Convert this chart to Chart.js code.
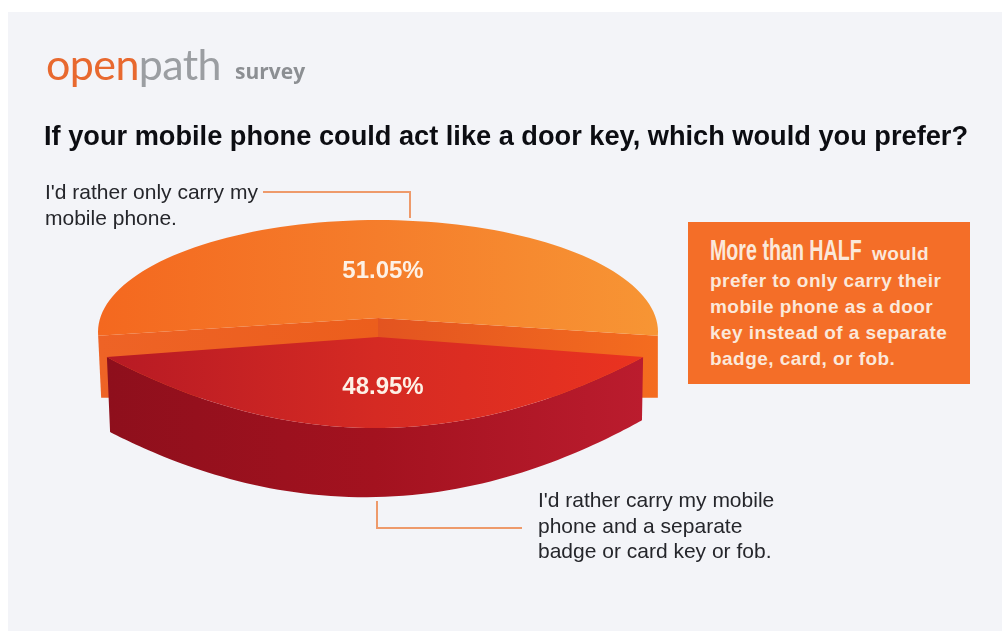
<!DOCTYPE html>
<html>
<head>
<meta charset="utf-8">
<title>openpath survey</title>
<script src="https://cdn.jsdelivr.net/npm/chart.js@4/dist/chart.umd.min.js"></script>
<style>
  html, body { margin: 0; padding: 0; width: 1002px; height: 631px; overflow: hidden; background: #fff; }
  #panel { position: absolute; left: 8px; top: 12px; width: 994px; height: 619px; background: #f3f4f8; }
  #pie { position: absolute; left: 0; top: 0; }
  .txt { position: absolute; white-space: nowrap; font-family: "Liberation Sans", Arial, sans-serif; }
  .logo { font-family: Lato, sans-serif; font-weight: 400; font-size: 43px; left: 46px; top: 38px; letter-spacing: -0.6px; }
  .survey { font-family: "Open Sans", sans-serif; font-weight: 700; font-size: 21px; left: 235px; top: 57px; color: #8c8f93; }
  h1.txt { margin: 0; left: 44px; top: 120px; font-size: 27.2px; font-weight: 700; color: #0c0d12; }
  .note { font-size: 21px; line-height: 25.6px; color: #25262b; }
  .leader { position: absolute; background: #ee9a6b; }
  #box { position: absolute; left: 688px; top: 222px; width: 282px; height: 162px; background: #f46e28; }
  .boxline { font-size: 19px; font-weight: 700; color: #fbe8da; left: 710px; letter-spacing: 0.45px; }
  .big { font-size: 30px; letter-spacing: 0; transform: scaleX(0.655); transform-origin: left center; }
</style>
</head>
<body>
<div id="panel"></div>
<canvas id="pie" width="1002" height="631"></canvas>

<div class="txt logo"><span style="color:#e8692f">open</span><span style="color:#9b9ea2">path</span></div>
<div class="txt survey">survey</div>
<h1 class="txt">If your mobile phone could act like a door key, which would you prefer?</h1>

<div class="txt note" style="left:45px;top:179px">I'd rather only carry my<br>mobile phone.</div>
<div class="leader" style="left:263px;top:191px;width:148px;height:2px"></div>
<div class="leader" style="left:409px;top:191px;width:2px;height:27px"></div>

<div class="txt note" style="left:538px;top:487px">I'd rather carry my mobile<br>phone and a separate<br>badge or card key or fob.</div>
<div class="leader" style="left:376px;top:501px;width:2px;height:28px"></div>
<div class="leader" style="left:376px;top:527px;width:146px;height:2px"></div>

<div id="box"></div>
<div class="txt boxline big" style="top:233px">More than HALF</div>
<div class="txt boxline" style="left:872px;top:243px">would</div>
<div class="txt boxline" style="top:270px">prefer to only carry their</div>
<div class="txt boxline" style="top:296px">mobile phone as a door</div>
<div class="txt boxline" style="top:322px">key instead of a separate</div>
<div class="txt boxline" style="top:348px">badge, card, or fob.</div>

<script>
const answers = ["I'd rather only carry my mobile phone.", "I'd rather carry my mobile phone and a separate badge or card key or fob."];
const shares = [51.05, 48.95];

const topStops = [["#f4681f", "#f57d2b", "#f79534"], ["#b71a24", "#d52a23", "#ea3320"]];
const wallStops = ["#8e0f1c", "#a3121f", "#bb1c2e"];

// horizontal colour ramp across the width of the pie
function ramp(ctx, x0, x1, stops) {
  const g = ctx.createLinearGradient(x0, 0, x1, 0);
  stops.forEach((c, i) => g.addColorStop(i / (stops.length - 1), c));
  return g;
}

// the upper slice sits on a plain ellipse, the lower one on a flatter curve
function upperPoint(arc, a) {
  return [arc.x + Math.cos(a) * arc.outerRadius, arc.y + Math.sin(a) * arc.outerRadius * 0.4];
}
function lowerPoint(arc, a) {
  const s = Math.sin(a);
  return [arc.x - 3 + Math.cos(a) * arc.outerRadius * 0.958, arc.y + 25 + 71 * s * s];
}

function sweep(arc, pointAt) {
  const pts = [];
  const n = 90;
  for (let i = 0; i <= n; i++) {
    pts.push(pointAt(arc, arc.startAngle + (arc.endAngle - arc.startAngle) * i / n));
  }
  return pts;
}

function fillShape(ctx, pts, style) {
  ctx.beginPath();
  pts.forEach((p, i) => (i ? ctx.lineTo(p[0], p[1]) : ctx.moveTo(p[0], p[1])));
  ctx.closePath();
  ctx.fillStyle = style;
  ctx.fill();
}

const slabPlugin = {
  id: 'slab',
  beforeDatasetsDraw(chart) {
    const ctx = chart.ctx;
    const [upper, lower] = chart.getDatasetMeta(0).data;
    const upperRim = sweep(upper, upperPoint);
    const lowerRim = sweep(lower, lowerPoint);
    // angles run clockwise: the upper rim starts on the left, the lower on the right
    const left = upperRim[0];
    const right = upperRim[upperRim.length - 1];
    const lowerLeft = lowerRim[lowerRim.length - 1];
    const lowerRight = lowerRim[0];
    const upperTip = [upper.x, upper.y - 14];
    const lowerTip = [upper.x, upper.y + 5];
    const drop = 62;

    // cut faces of the orange slice, showing behind the red one
    fillShape(ctx, [upperTip, left, [left[0] + 3, left[1] + drop], [upper.x, left[1] + drop]],
      ramp(ctx, left[0], upper.x, ["#ee6326", "#ec5e1c"]));
    fillShape(ctx, [upperTip, right, [right[0], right[1] + drop], [upper.x, right[1] + drop]],
      ramp(ctx, upper.x, right[0], ["#e35420", "#f46c1f"]));

    // orange top face
    fillShape(ctx, [upperTip].concat(upperRim), ramp(ctx, left[0], right[0], topStops[0]));

    // red wall: the lower rim pushed down, a bit less towards the right
    const wallEdge = lowerRim.map(p => [
      p[0] + 1 + 0.008 * (upper.x - p[0]),
      p[1] + 69 - 0.022 * (p[0] - upper.x)
    ]);
    fillShape(ctx, lowerRim.concat(wallEdge.slice().reverse()),
      ramp(ctx, lowerLeft[0], lowerRight[0], wallStops));

    // red top face
    fillShape(ctx, [lowerTip].concat(lowerRim),
      ramp(ctx, lowerLeft[0], lowerRight[0], topStops[1]));

    // value labels
    ctx.font = 'bold 24px "Liberation Sans", Arial, sans-serif';
    ctx.fillStyle = '#fdf1e6';
    ctx.textAlign = 'center';
    ctx.textBaseline = 'middle';
    ctx.fillText(shares[0].toFixed(2) + '%', upper.x + 5, upper.y - 61);
    ctx.fillText(shares[1].toFixed(2) + '%', upper.x + 5, upper.y + 55);
    return false;
  }
};

new Chart(document.getElementById('pie'), {
  type: 'pie',
  data: {
    labels: answers,
    datasets: [{ data: shares, borderWidth: 0 }]
  },
  options: {
    responsive: false,
    animation: false,
    // first slice stays centred on the top of the pie
    rotation: -shares[0] / (shares[0] + shares[1]) * 180,
    layout: { padding: { left: 98, right: 344, top: 33, bottom: 0 } },
    plugins: { legend: { display: false }, tooltip: { enabled: false } }
  },
  plugins: [slabPlugin]
});
</script>
</body>
</html>
